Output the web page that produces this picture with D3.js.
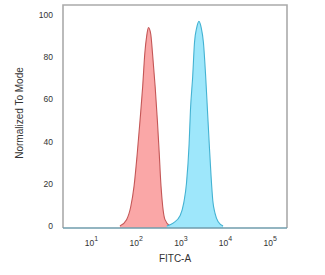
<!DOCTYPE html>
<html>
<head>
<meta charset="utf-8">
<script src="https://cdn.jsdelivr.net/npm/d3@7"></script>
<style>
    body { margin: 0; background: #fff; }
    text { font-family: "Liberation Sans", Arial, sans-serif; fill: #333; }
</style>
</head>
<body>
<svg id="histogram" width="325" height="275"></svg>
<script>
// FITC-A intensity / normalized-to-mode values
var isotype_fitc = [39, 55, 68, 81, 95, 110, 126, 141, 155, 170, 191, 209, 240, 269, 295, 324, 355, 398, 513];
var isotype_mode = [0, 3, 9, 19, 34, 50, 66, 82, 90, 94, 91, 82, 66, 50, 35, 19, 9, 3, 0];

var stained_fitc = [437, 617, 871, 1047, 1202, 1380, 1479, 1660, 1820, 2042, 2291, 2570, 2884, 3236, 3548, 3890, 4266, 4677, 5248, 6166, 7943];
var stained_mode = [0, 1.5, 5, 11, 20, 39, 55, 71, 87, 94, 97, 94, 87, 71, 55, 39, 24, 12, 6, 2, 0];

var x_ticks = [1, 2, 3, 4, 5];           // decades shown on the x axis
var y_ticks = [0, 20, 40, 60, 80, 100];

var svg = d3.select("#histogram");
const margins = {top: 5, right: 38, bottom: 47, left: 63};
const width = 325, height = 275;

var xScale = d3.scaleLog()
    .domain([Math.pow(10, 0.318), Math.pow(10, 5.33)])
    .range([margins.left, width - margins.right]);
var yScale = d3.scaleLinear()
    .domain([0, 100])
    .range([226, 15]);
const baseY = height - margins.bottom;  // 228

function drawPeak(xs, ys, fill, stroke) {
    var pts = xs.map((v, i) => [v, ys[i]]);
    var area = d3.area()
        .x(d => xScale(d[0]))
        .y0(baseY)
        .y1(d => Math.min(baseY, yScale(d[1])))
        .curve(d3.curveMonotoneX);
    var line = d3.line()
        .x(d => xScale(d[0]))
        .y(d => Math.min(baseY, yScale(d[1])))
        .curve(d3.curveMonotoneX);
    svg.append("path").attr("d", area(pts)).attr("fill", fill).attr("opacity", 0.9);
    svg.append("path").attr("d", line(pts)).attr("fill", "none")
        .attr("stroke", stroke).attr("stroke-width", 1.1);
}

drawPeak(isotype_fitc, isotype_mode, "#fa9d9d", "#c45656");
drawPeak(stained_fitc, stained_mode, "#93e4fb", "#43b2d2");

// frame
svg.append("path")
    .attr("d", "M" + margins.left + "," + baseY + "V" + margins.top + "H" + (width - margins.right) + "V" + baseY)
    .attr("fill", "none").attr("stroke", "#ababab").attr("stroke-width", 1.6);
svg.append("line")
    .attr("x1", margins.left).attr("x2", width - margins.right)
    .attr("y1", baseY).attr("y2", baseY)
    .attr("stroke", "#6f9cad").attr("stroke-width", 1.6);

// y tick labels
svg.selectAll("text.ytick")
    .data(y_ticks).enter()
    .append("text").classed("ytick", true)
    .attr("x", 53)
    .attr("y", d => yScale(d) + 3)
    .attr("text-anchor", "end")
    .attr("font-size", 8.5)
    .text(d => d);

// x tick labels: 10 with superscript exponent
var xt = svg.selectAll("text.xtick")
    .data(x_ticks).enter()
    .append("text").classed("xtick", true)
    .attr("x", d => xScale(Math.pow(10, d)) - 2)
    .attr("y", 246)
    .attr("text-anchor", "middle")
    .attr("font-size", 8.5);
xt.append("tspan").text("10");
xt.append("tspan").attr("dy", -5).attr("font-size", 7).text(d => d);

svg.append("text")
    .attr("x", 175).attr("y", 262)
    .attr("text-anchor", "middle")
    .attr("font-size", 10)
    .text("FITC-A");

svg.append("text")
    .attr("transform", "translate(23,113) rotate(-90)")
    .attr("text-anchor", "middle")
    .attr("font-size", 10)
    .text("Normalized To Mode");
</script>
</body>
</html>
